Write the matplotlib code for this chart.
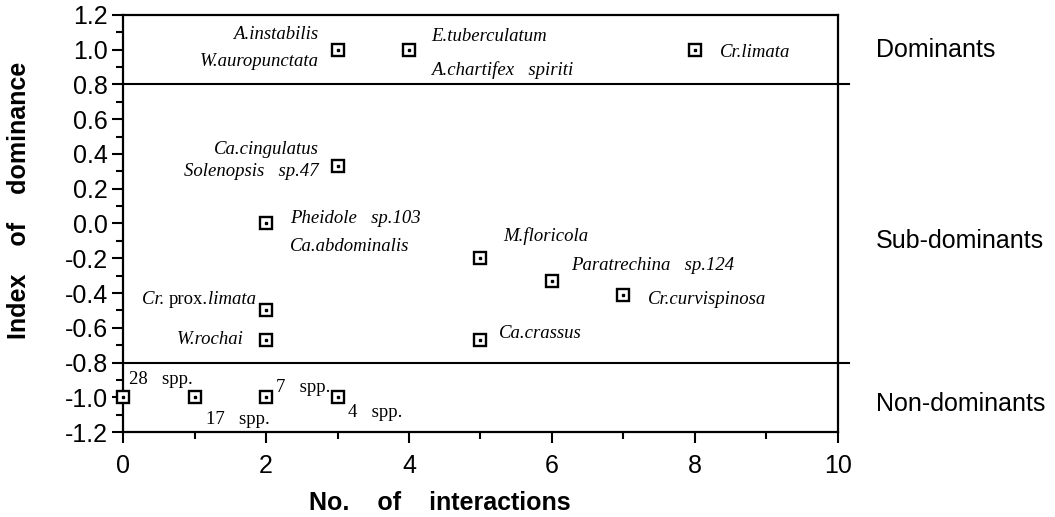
import matplotlib
matplotlib.use("Agg")
import matplotlib.pyplot as plt
from matplotlib.ticker import MultipleLocator, FormatStrFormatter

plt.rcParams["axes.unicode_minus"] = False
plt.rcParams["font.family"] = ["Liberation Sans", "DejaVu Sans"]

# species groups: number of interactions vs index of dominance
n_interactions = [3, 4, 8, 3, 2, 5, 6, 7, 2, 2, 5, 0, 1, 2, 3]
dominance_idx = [1.0, 1.0, 1.0, 0.33, 0.0, -0.2, -0.33, -0.41, -0.5, -0.67, -0.67,
                 -1.0, -1.0, -1.0, -1.0]
point_labels = [
    ["A.instabilis", "W.auropunctata"],
    ["E.tuberculatum", "A.chartifex   spiriti"],
    ["Cr.limata"],
    ["Ca.cingulatus", "Solenopsis   sp.47"],
    ["Pheidole   sp.103", "Ca.abdominalis"],
    ["M.floricola"],
    ["Paratrechina   sp.124"],
    ["Cr.curvispinosa"],
    ["Cr. prox.limata"],
    ["W.rochai"],
    ["Ca.crassus"],
    ["28   spp."],
    ["17   spp."],
    ["7   spp."],
    ["4   spp."],
]
thresholds = [0.8, -0.8]
class_names = ["Dominants", "Sub-dominants", "Non-dominants"]

# label offsets from each marker (pixels) and alignment
label_layout = [
    [(-19, 15, "right"), (-19, -12, "right")],
    [(22, 13, "left"), (22, -20, "left")],
    [(25, -3, "left")],
    [(-19, 17, "right"), (-19, -5, "right")],
    [(24, 5, "left"), (24, -23, "left")],
    [(23, 22, "left")],
    [(19, 15, "left")],
    [(24, -5, "left")],
    [(-10, 11, "right")],
    [(-22, 0, "right")],
    [(18, 6, "left")],
    [(6, 18, "left")],
    [(11, -22, "left")],
    [(10, 10, "left")],
    [(10, -15, "left")],
]
upright = {"28   spp.", "17   spp.", "7   spp.", "4   spp."}
class_y = [1.0, -0.1, -1.04]

fig = plt.figure(figsize=(10.55, 5.17), dpi=100)
ax = fig.add_axes([0.1166, 0.1644, 0.6777, 0.8066])

ax.plot(n_interactions, dominance_idx, ls="none", marker="s", ms=8.5,
        mfc="white", mec="black", mew=1.7, zorder=3, clip_on=False)
ax.plot(n_interactions, dominance_idx, ls="none", marker="s", ms=2.0,
        mfc="black", mec="black", zorder=4, clip_on=False)

serif = dict(fontsize=13.5, family="Liberation Serif", va="center")
for x, y, labs, lay in zip(n_interactions, dominance_idx, point_labels, label_layout):
    for lab, (dx, dy, ha) in zip(labs, lay):
        if lab == "Cr. prox.limata":
            # mixed styles: "Cr." and "limata" italic, "prox." upright
            t = ax.annotate("limata", (x, y), xytext=(dx, dy), textcoords="offset pixels",
                            ha="right", style="italic", **serif)
            fig.canvas.draw()
            w = t.get_window_extent().width
            t2 = ax.annotate("prox.", (x, y), xytext=(dx - w, dy), textcoords="offset pixels",
                             ha="right", **serif)
            fig.canvas.draw()
            w2 = t2.get_window_extent().width
            ax.annotate("Cr. ", (x, y), xytext=(dx - w - w2, dy), textcoords="offset pixels",
                        ha="right", style="italic", **serif)
            continue
        ax.annotate(lab, (x, y), xytext=(dx, dy), textcoords="offset pixels", ha=ha,
                    style="normal" if lab in upright else "italic", **serif)

for th in thresholds:
    ax.axhline(th, xmin=0, xmax=1.015, color="black", lw=1.5, clip_on=False)

for name, cy in zip(class_names, class_y):
    ax.text(1.053, cy, name, transform=ax.get_yaxis_transform(), ha="left",
            va="center", fontsize=18)

ax.set_xlim(0, 10)
ax.set_ylim(-1.2, 1.2)
ax.xaxis.set_major_locator(MultipleLocator(2))
ax.xaxis.set_minor_locator(MultipleLocator(1))
ax.yaxis.set_major_locator(MultipleLocator(0.2))
ax.yaxis.set_minor_locator(MultipleLocator(0.1))
ax.yaxis.set_major_formatter(FormatStrFormatter("%.1f"))
ax.tick_params(which="major", direction="out", length=8, width=1.5, labelsize=18)
ax.tick_params(axis="x", which="major", pad=8)
ax.tick_params(axis="y", which="major", pad=3)
ax.tick_params(which="minor", direction="out", length=5, width=1.5)
for sp in ax.spines.values():
    sp.set_linewidth(1.6)

ax.set_xlabel("No.    of    interactions", fontsize=18, fontweight="bold")
ax.set_ylabel("Index    of    dominance", fontsize=18, fontweight="bold")
ax.xaxis.set_label_coords(0.443, -0.141)
ax.yaxis.set_label_coords(-0.128, 0.555)

fig.savefig("out.png", dpi=100)
